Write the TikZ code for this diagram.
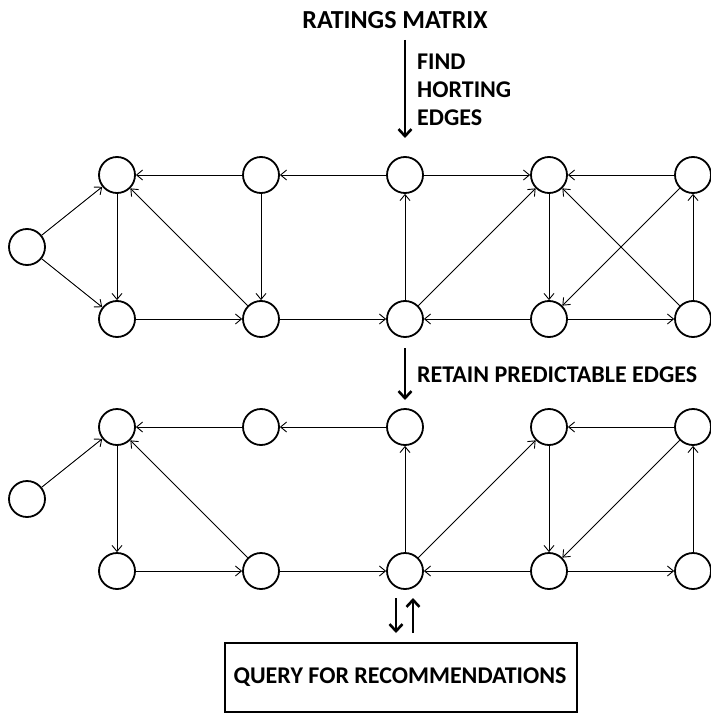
\documentclass[tikz,border=0pt]{standalone}
\usepackage{fontspec}
\setmainfont{Carlito}
\usetikzlibrary{arrows.meta}
\begin{document}
\begin{tikzpicture}[x=1pt,y=-1pt,
  vtx/.style={circle,draw,line width=1.8pt,minimum size=36pt,inner sep=0pt},
  edge/.style={line width=0.9pt,-{Straight Barb[length=6pt,width=10pt,line width=0.9pt]}},
  bigarrow/.style={line width=2.6pt,-{Straight Barb[length=7pt,width=13pt,line width=2.6pt]}},
  lbl/.style={font=\bfseries\fontsize{24}{28}\selectfont,inner sep=0pt}]
\useasboundingbox (0,0) rectangle (710,714);
% vertices
\foreach \n/\x in {1/117,2/261,3/405,4/549,5/693}{
  \node[vtx] (t\n) at (\x,175) {};
  \node[vtx] (b\n) at (\x,319) {};
  \node[vtx] (u\n) at (\x,427) {};
  \node[vtx] (v\n) at (\x,571) {};
}
\node[vtx] (l) at (27,247) {};
\node[vtx] (m) at (27,499) {};
% top graph edges
\draw[edge] (l) -- (t1);
\draw[edge] (l) -- (b1);
\draw[edge] (t1) -- (b1);
\draw[edge] (t2) -- (t1);
\draw[edge] (b2) -- (t1);
\draw[edge] (b1) -- (b2);
\draw[edge] (t2) -- (b2);
\draw[edge] (t3) -- (t2);
\draw[edge] (b2) -- (b3);
\draw[edge] (b3) -- (t3);
\draw[edge] (t3) -- (t4);
\draw[edge] (b3) -- (t4);
\draw[edge] (t5) -- (t4);
\draw[edge] (t4) -- (b4);
\draw[edge] (b4) -- (b3);
\draw[edge] (t5) -- (b4);
\draw[edge] (b5) -- (t4);
\draw[edge] (b4) -- (b5);
\draw[edge] (b5) -- (t5);
% bottom graph edges
\draw[edge] (m) -- (u1);
\draw[edge] (u1) -- (v1);
\draw[edge] (u2) -- (u1);
\draw[edge] (v2) -- (u1);
\draw[edge] (v1) -- (v2);
\draw[edge] (u3) -- (u2);
\draw[edge] (v2) -- (v3);
\draw[edge] (v3) -- (u3);
\draw[edge] (v3) -- (u4);
\draw[edge] (u5) -- (u4);
\draw[edge] (u4) -- (v4);
\draw[edge] (v4) -- (v3);
\draw[edge] (u5) -- (v4);
\draw[edge] (v4) -- (v5);
\draw[edge] (v5) -- (u5);
% labels and big arrows
\node[lbl,font=\bfseries\fontsize{26}{28}\selectfont] (rm) at (395,20) {RATINGS MATRIX};
\coordinate (a1s) at (405,40);
\coordinate (a1e) at (405,138);
\draw[bigarrow] (a1s) -- (a1e);
\node[lbl,anchor=west,align=left] (fh) at (417,90) {FIND\\HORTING\\EDGES};
\coordinate (a2s) at (405,348);
\coordinate (a2e) at (405,400);
\draw[bigarrow] (a2s) -- (a2e);
\node[lbl,anchor=west] (rp) at (417,375) {RETAIN PREDICTABLE EDGES};
\coordinate (a3s) at (396,598);
\coordinate (a3e) at (396,633);
\draw[bigarrow] (a3s) -- (a3e);
\coordinate (a4s) at (413,633);
\coordinate (a4e) at (413,598);
\draw[bigarrow] (a4s) -- (a4e);
\node[draw,line width=1.8pt,minimum width=352pt,minimum height=69pt,inner sep=0pt] (q) at (401,677.5) {};
\node[lbl] (qt) at (400,677) {QUERY FOR RECOMMENDATIONS};
\end{tikzpicture}
\end{document}
